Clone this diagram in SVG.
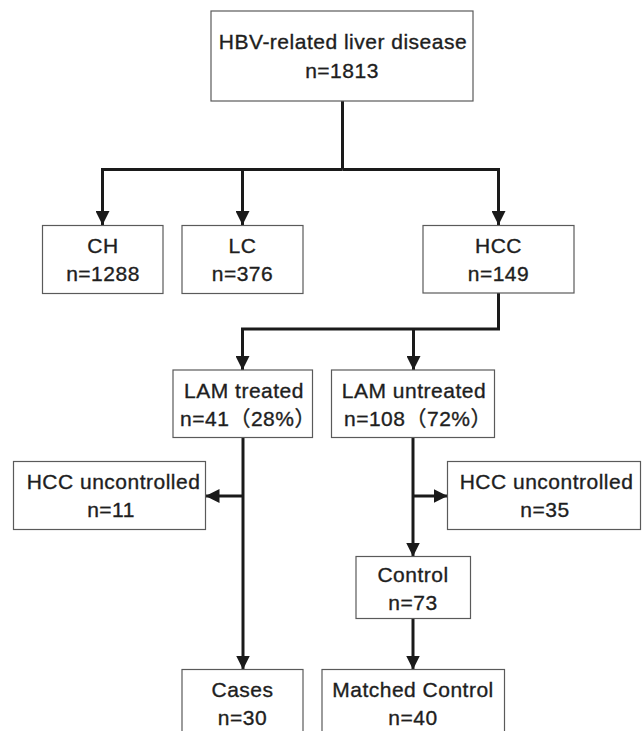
<svg xmlns="http://www.w3.org/2000/svg" width="642" height="731" viewBox="0 0 642 731">
<style>
.box{fill:#fff;stroke:#5a5a5a;stroke-width:1.2}
.t{font-family:"Liberation Sans","Noto Sans CJK JP",Arial,sans-serif;font-size:21px;letter-spacing:0.5px;fill:#1e1e1e;stroke:#1e1e1e;stroke-width:0.35;text-anchor:middle}
.c{fill:none;stroke:#1a1a1a;stroke-width:3;stroke-linejoin:miter}
</style>
<defs>
<marker id="ah" markerUnits="userSpaceOnUse" markerWidth="15" markerHeight="14" refX="14" refY="7" orient="auto">
<path d="M0,0 L14,7 L0,14 z" fill="#1a1a1a"/>
</marker>
</defs>
<rect width="642" height="731" fill="#fff"/>
<g id="connectors">
<path class="c" d="M342.5,101 V169.5"/>
<path class="c" d="M342.5,169.5 H102.5 V225" marker-end="url(#ah)"/>
<path class="c" d="M342.5,169.5 H498.5 V225" marker-end="url(#ah)"/>
<path class="c" d="M242.5,169.5 V225" marker-end="url(#ah)"/>
<path class="c" d="M498.5,293 V329 H242.5 V370" marker-end="url(#ah)"/>
<path class="c" d="M413.5,329 V370" marker-end="url(#ah)"/>
<path class="c" d="M243,437.5 V669.5" marker-end="url(#ah)"/>
<path class="c" d="M243,496 H205.5" marker-end="url(#ah)"/>
<path class="c" d="M413,437.5 V556.5" marker-end="url(#ah)"/>
<path class="c" d="M413,496 H447.5" marker-end="url(#ah)"/>
<path class="c" d="M413,618.5 V669.5" marker-end="url(#ah)"/>
</g>
<g id="n-root">
<rect class="box" x="211" y="11" width="262" height="90"/>
<text class="t" x="343" y="49">HBV-related liver disease</text>
<text class="t" x="342" y="78">n=1813</text>
</g>
<g id="n-ch">
<rect class="box" x="42.5" y="225.5" width="120.5" height="68"/>
<text class="t" x="103" y="253">CH</text>
<text class="t" x="103" y="281">n=1288</text>
</g>
<g id="n-lc">
<rect class="box" x="182" y="225.5" width="121" height="68"/>
<text class="t" x="242.5" y="253">LC</text>
<text class="t" x="242.5" y="281">n=376</text>
</g>
<g id="n-hcc">
<rect class="box" x="423" y="225.5" width="151" height="67.5"/>
<text class="t" x="498.5" y="253">HCC</text>
<text class="t" x="498.5" y="281">n=149</text>
</g>
<g id="n-lamt">
<rect class="box" x="173" y="370" width="139.5" height="67.5"/>
<text class="t" x="244" y="397.5">LAM treated</text>
<text class="t" x="248" y="426">n=41（28%）</text>
</g>
<g id="n-lamu">
<rect class="box" x="331.5" y="370" width="163" height="67.5"/>
<text class="t" x="414" y="397.5">LAM untreated</text>
<text class="t" x="418" y="426">n=108（72%）</text>
</g>
<g id="n-unc1">
<rect class="box" x="13.5" y="461.5" width="192" height="68"/>
<text class="t" x="113.5" y="488.5">HCC uncontrolled</text>
<text class="t" x="111" y="516.5">n=11</text>
</g>
<g id="n-unc2">
<rect class="box" x="447.5" y="461.5" width="193" height="68"/>
<text class="t" x="546.5" y="488.5">HCC uncontrolled</text>
<text class="t" x="545" y="516.5">n=35</text>
</g>
<g id="n-control">
<rect class="box" x="356" y="556.5" width="114.5" height="62"/>
<text class="t" x="413" y="582">Control</text>
<text class="t" x="413" y="609.5">n=73</text>
</g>
<g id="n-cases">
<rect class="box" x="182" y="669.5" width="121" height="80"/>
<text class="t" x="242.5" y="697">Cases</text>
<text class="t" x="242.5" y="724.5">n=30</text>
</g>
<g id="n-matched">
<rect class="box" x="322" y="669.5" width="182.5" height="80"/>
<text class="t" x="413" y="697">Matched Control</text>
<text class="t" x="413" y="724.5">n=40</text>
</g>
</svg>
